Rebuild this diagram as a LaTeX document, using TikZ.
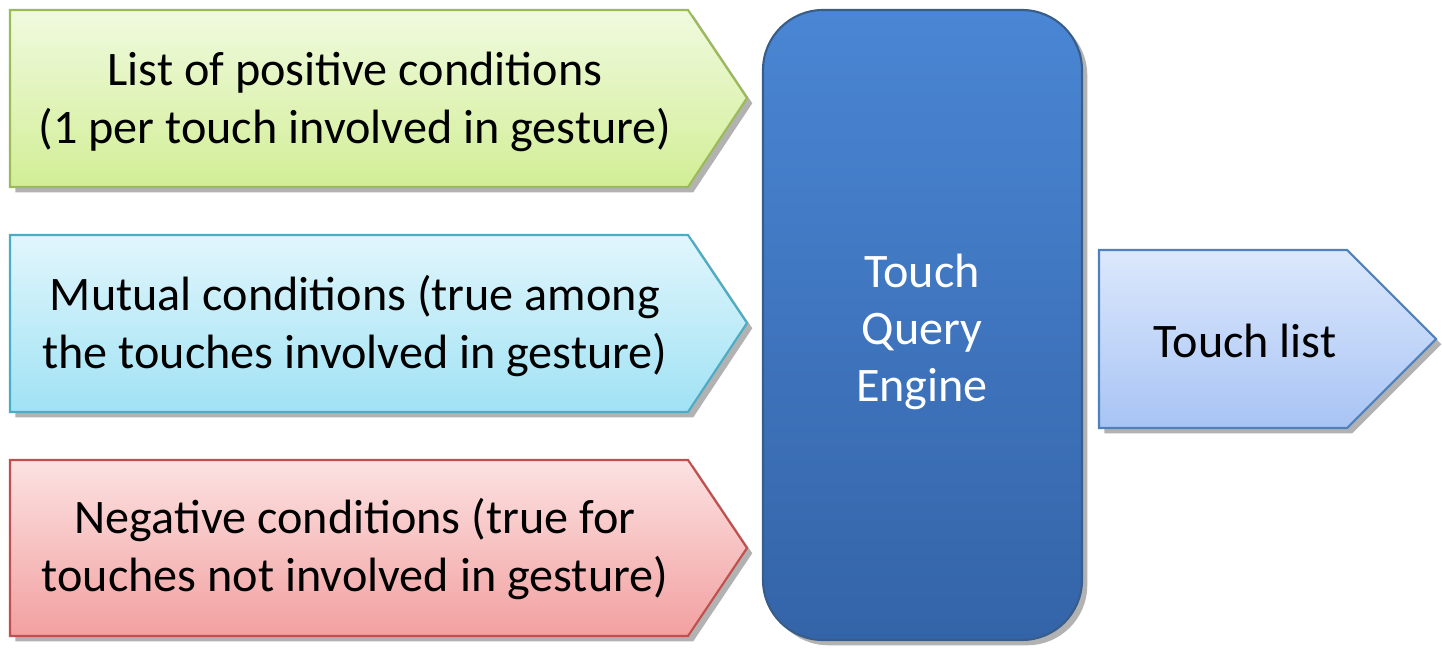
\documentclass[tikz,border=0pt]{standalone}
\usepackage{fontspec}
\setmainfont{Carlito}
\usetikzlibrary{shadows}
\definecolor{posTop}{RGB}{240,250,222}
\definecolor{posBot}{RGB}{210,238,150}
\definecolor{posLine}{RGB}{155,187,89}
\definecolor{mutTop}{RGB}{225,246,252}
\definecolor{mutBot}{RGB}{160,226,244}
\definecolor{mutLine}{RGB}{75,172,198}
\definecolor{negTop}{RGB}{252,226,226}
\definecolor{negBot}{RGB}{242,160,160}
\definecolor{negLine}{RGB}{192,80,77}
\definecolor{engTop}{RGB}{74,134,212}
\definecolor{engBot}{RGB}{52,100,168}
\definecolor{engLine}{RGB}{56,93,138}
\definecolor{outTop}{RGB}{220,232,252}
\definecolor{outBot}{RGB}{168,196,244}
\definecolor{outLine}{RGB}{79,129,189}
\tikzset{
    box/.style={line width=0.6pt, drop shadow={shadow xshift=1.5pt, shadow yshift=-1.5pt, opacity=0.3, fill=black}},
    lbl/.style={font=\fontsize{13.7}{16.3}\selectfont, align=center}
}

\begin{document}
\begin{tikzpicture}[x=0.01cm, y=-0.01cm]
    \useasboundingbox (0,0) rectangle (1442,652);

    % condition arrows
    \path[box, draw=posLine, top color=posTop, bottom color=posBot] (10,10) -- (688,10) -- (747,98) -- (688,187) -- (10,187) -- cycle;
    \node[lbl] (pos) at (355,102) {List of positive conditions\\(1 per touch involved in gesture)};

    \path[box, draw=mutLine, top color=mutTop, bottom color=mutBot] (10,235) -- (688,235) -- (747,323) -- (688,412) -- (10,412) -- cycle;
    \node[lbl] (mut) at (355,326) {Mutual conditions (true among\\the touches involved in gesture)};

    \path[box, draw=negLine, top color=negTop, bottom color=negBot] (10,460) -- (688,460) -- (747,548) -- (688,636) -- (10,636) -- cycle;
    \node[lbl] (neg) at (355,549) {Negative conditions (true for\\touches not involved in gesture)};

    % engine
    \path[box, draw=engLine, top color=engTop, bottom color=engBot, rounded corners=0.6cm] (763,10) rectangle (1082,640);
    \node[lbl, text=white] (eng) at (922,332) {Touch\\Query\\Engine};

    % result
    \path[box, draw=outLine, top color=outTop, bottom color=outBot] (1099,250) -- (1347,250) -- (1436,339) -- (1347,428) -- (1099,428) -- cycle;
    \node[lbl] (out) at (1245,341) {Touch list};

\end{tikzpicture}
\end{document}
